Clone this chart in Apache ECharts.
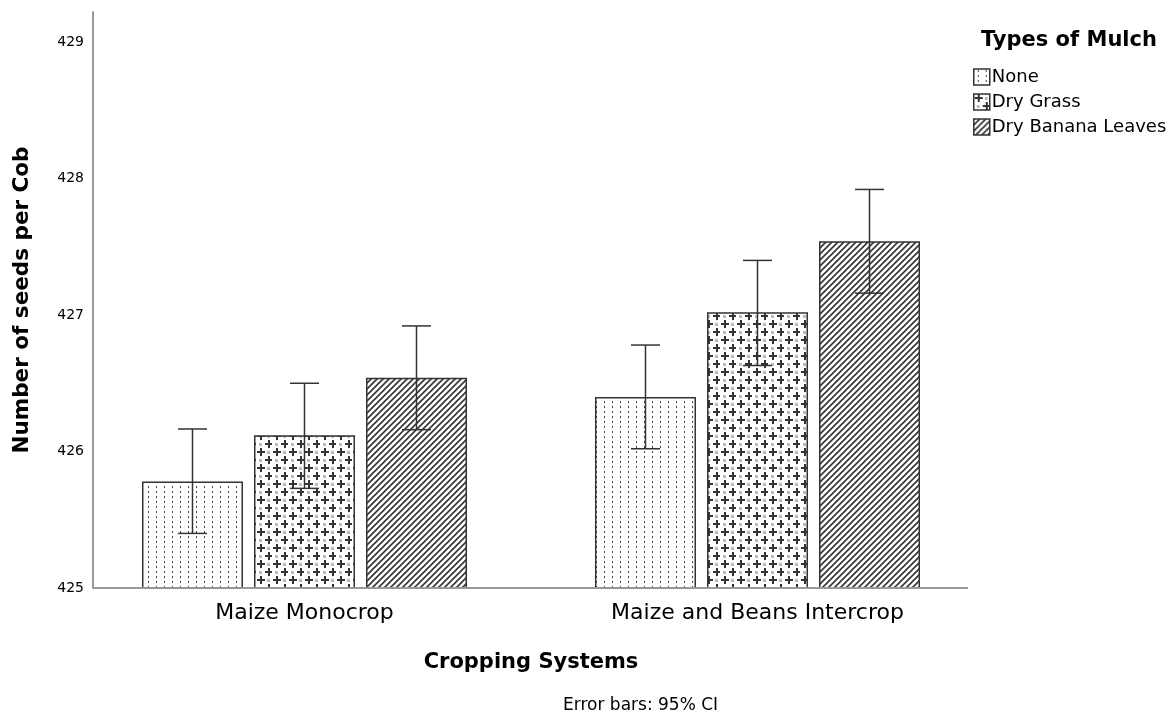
<!DOCTYPE html>
<html>
<head>
<meta charset="utf-8">
<script src="https://cdn.jsdelivr.net/npm/echarts@6/dist/echarts.min.js"></script>
<style>
html,body{margin:0;padding:0;background:#fff;}
#chart{width:1174px;height:719px;}
</style>
</head>
<body>
<div id="chart"></div>
<script>
// ---- data ----
const categories = ['Maize Monocrop', 'Maize and Beans Intercrop'];
const mulchTypes = ['None', 'Dry Grass', 'Dry Banana Leaves'];
const noneMeans = [425.78, 426.40];
const noneLow = [425.40, 426.02];
const noneHigh = [426.165, 426.78];
const grassMeans = [426.12, 427.02];
const grassLow = [425.73, 426.63];
const grassHigh = [426.50, 427.40];
const bananaMeans = [426.54, 427.54];
const bananaLow = [426.16, 427.16];
const bananaHigh = [426.92, 427.92];
const yTicks = [425, 426, 427, 428, 429];

// ---- patterns ----
function makePattern(kind) {
  const c = document.createElement('canvas');
  const ctx = c.getContext('2d');
  if (kind === 'none') {
    c.width = 8; c.height = 5;
    ctx.fillStyle = '#fff'; ctx.fillRect(0, 0, 8, 5);
    ctx.fillStyle = '#444'; ctx.fillRect(4, 1, 1, 2);
  } else if (kind === 'grass') {
    c.width = 16; c.height = 16;
    ctx.fillStyle = '#fff'; ctx.fillRect(0, 0, 16, 16);
    ctx.fillStyle = '#bbb';
    [[12, 4], [4, 12]].forEach(([x, y]) => { ctx.fillRect(x - 1, y - 1, 3, 3); });
    ctx.fillStyle = '#333';
    [[4, 4], [12, 12]].forEach(([x, y]) => {
      ctx.fillRect(x - 3, y - 1, 8, 2);
      ctx.fillRect(x - 0, y - 4, 2, 8);
    });
  } else {
    c.width = 6; c.height = 6;
    ctx.fillStyle = '#fff'; ctx.fillRect(0, 0, 6, 6);
    ctx.strokeStyle = '#333'; ctx.lineWidth = 1.6;
    ctx.beginPath();
    ctx.moveTo(-1, 7); ctx.lineTo(7, -1);
    ctx.moveTo(-4, 4); ctx.lineTo(4, -4);
    ctx.moveTo(2, 10); ctx.lineTo(10, 2);
    ctx.stroke();
  }
  return { image: c, repeat: 'repeat' };
}
const patterns = [makePattern('none'), makePattern('grass'), makePattern('banana')];

const means = [noneMeans, grassMeans, bananaMeans];
const lows = [noneLow, grassLow, bananaLow];
const highs = [noneHigh, grassHigh, bananaHigh];

const BAR_W = 101, BAR_STEP = 112, CAP = 29;

const series = [];
mulchTypes.forEach((name, k) => {
  series.push({
    name: name,
    type: 'bar',
    data: means[k],
    barWidth: BAR_W,
    barGap: '10.9%',
    itemStyle: { color: patterns[k], borderColor: '#333', borderWidth: 1.5 },
    emphasis: { disabled: true },
    animation: false
  });
});
mulchTypes.forEach((name, k) => {
  series.push({
    name: name + ' CI',
    type: 'custom',
    z: 10,
    animation: false,
    data: categories.map((c, i) => [i, lows[k][i], highs[k][i]]),
    renderItem: function (params, api) {
      const lo = api.coord([api.value(0), api.value(1)]);
      const hi = api.coord([api.value(0), api.value(2)]);
      const x = lo[0] + (k - 1) * BAR_STEP;
      const style = { stroke: '#333', lineWidth: 1.5 };
      return {
        type: 'group',
        children: [
          { type: 'line', shape: { x1: x, y1: hi[1], x2: x, y2: lo[1] }, style: style },
          { type: 'line', shape: { x1: x - CAP / 2, y1: hi[1], x2: x + CAP / 2, y2: hi[1] }, style: style },
          { type: 'line', shape: { x1: x - CAP / 2, y1: lo[1], x2: x + CAP / 2, y2: lo[1] }, style: style }
        ]
      };
    }
  });
});

const chart = echarts.init(document.getElementById('chart'), null, { renderer: 'canvas' });
const FONT = 'DejaVu Sans, sans-serif';
chart.setOption({
  backgroundColor: '#fff',
  animation: false,
  textStyle: { fontFamily: FONT },
  title: [
    { text: 'Types of Mulch', left: 976, top: 25, textStyle: { fontSize: 21, fontWeight: 'bold', color: '#000', fontFamily: FONT } },
    { text: 'Error bars: 95% CI', left: 558, top: 692, textStyle: { fontSize: 17, fontWeight: 'normal', color: '#000', fontFamily: FONT } }
  ],
  legend: {
    data: mulchTypes,
    orient: 'vertical',
    left: 968,
    top: 63,
    itemWidth: 16,
    itemHeight: 16,
    itemGap: 7,
    icon: 'rect',
    selectedMode: false,
    textStyle: { fontSize: 18, color: '#000', fontFamily: FONT, padding: [0, 0, 0, -3] },
    itemStyle: { borderColor: '#333', borderWidth: 1.5 }
  },
  grid: { left: 78, right: 190, top: 12, bottom: 131, containLabel: false },
  xAxis: {
    type: 'category',
    data: categories,
    axisLine: { show: false },
    axisTick: { show: false },
    axisLabel: { fontSize: 22, color: '#000', margin: 14, fontFamily: FONT },
    name: 'Cropping Systems',
    nameLocation: 'middle',
    nameGap: 64,
    nameTextStyle: { fontSize: 21, fontWeight: 'bold', color: '#000', fontFamily: FONT }
  },
  yAxis: {
    type: 'value',
    min: 425,
    max: 429.22,
    interval: 1,
    offset: -15,
    axisLine: { show: true, lineStyle: { color: '#999', width: 2 } },
    axisTick: { show: false },
    splitLine: { show: false },
    axisLabel: {
      fontSize: 14, color: '#000', margin: 9, fontFamily: FONT,
      formatter: v => (yTicks.indexOf(v) >= 0 ? String(v) : '')
    },
    name: 'Number of seeds per Cob',
    nameLocation: 'middle',
    nameGap: 60,
    nameTextStyle: { fontSize: 21.5, fontWeight: 'bold', color: '#000', fontFamily: FONT }
  },
  graphic: [
    { type: 'line', shape: { x1: 93, y1: 588, x2: 968, y2: 588 }, style: { stroke: '#999', lineWidth: 2 }, z: 5 }
  ],
  series: series
});
</script>
</body>
</html>
